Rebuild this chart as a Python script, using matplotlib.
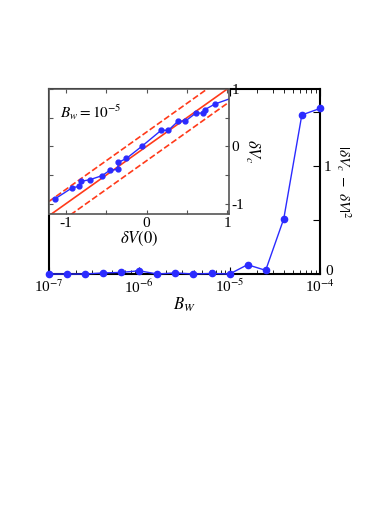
import numpy as np
import matplotlib
matplotlib.use("Agg")
import matplotlib.pyplot as plt
from matplotlib.transforms import ScaledTranslation

plt.rcParams['font.family'] = ['Liberation Serif', 'DejaVu Serif']
plt.rcParams['mathtext.fontset'] = 'stix'

# main panel: error vs B_w
bw = [1e-7, 1.58e-7, 2.51e-7, 3.98e-7, 6.31e-7, 1e-6, 1.58e-6, 2.51e-6,
      3.98e-6, 6.31e-6, 1e-5, 1.58e-5, 2.51e-5, 3.98e-5, 6.31e-5, 1e-4]
err = [0.0, 0.0, 0.0, 0.01, 0.015, 0.03, 0.0, 0.01,
       0.0, 0.005, 0.0, 0.086, 0.034, 0.51, 1.47, 1.53]

# inset: dV_c vs dV(0) at B_w = 1e-5
dv0 = [-1.14, -0.92, -0.84, -0.81, -0.70, -0.55, -0.46, -0.36, -0.35, -0.25,
       -0.06, 0.18, 0.27, 0.39, 0.48, 0.61, 0.70, 0.72, 0.85]
dvc = [-0.92, -0.72, -0.70, -0.61, -0.58, -0.51, -0.42, -0.40, -0.28, -0.21,
       0.0, 0.28, 0.28, 0.44, 0.44, 0.58, 0.58, 0.64, 0.74]
dv0_end = [0.85, 1.05]
dvc_end = [0.74, 0.84]
band = 0.25

blue = '#2b2bff'
red = '#ff3a1a'

fig = plt.figure(figsize=(3.92, 5.08), dpi=100)

ax = fig.add_axes([0.125, 0.4606, 0.691, 0.3642])
ax.plot(bw, err, '-o', color=blue, lw=1.0, ms=4.5, clip_on=False, zorder=5)
ax.set_xscale('log')
ax.set_xlim(1e-7, 1e-4)
ax.set_ylim(0, 1.71)
ax.yaxis.tick_right()
ax.yaxis.set_label_position('right')
ax.set_yticks([0, 0.5, 1, 1.5])
ax.set_yticklabels(['0', '', '1', ''])
ax.tick_params(axis='x', which='both', direction='in', top=True, labelsize=11, pad=3)
ax.tick_params(axis='x', which='major', length=5)
ax.tick_params(axis='x', which='minor', length=3)
ax.tick_params(axis='y', direction='in', length=5, labelsize=11, pad=3)
ax.set_xticks([1e-7, 1e-6, 1e-5, 1e-4])
ax.set_xticklabels([r'10$^{-7}$', r'10$^{-6}$', r'10$^{-5}$', r'10$^{-4}$'])
# nudge the "0" up a little so it clears 10^-4
lab0 = ax.get_yticklabels()[0]
lab0.set_transform(lab0.get_transform() + ScaledTranslation(1/72, 3/72, fig.dpi_scale_trans))
for s in ax.spines.values():
    s.set_linewidth(1.5)
ax.set_xlabel(r'$B_W$', fontsize=12, labelpad=0)
ax.set_ylabel(r'$|\delta V_c\ -\ \delta V|^2$', fontsize=11, rotation=-90, labelpad=14)

# inset
ins = fig.add_axes([0.125, 0.5787, 0.459, 0.2461])
xx = np.array([-1.3, 1.1])
ins.plot(xx, xx, '-', color=red, lw=1.2)
ins.plot(xx, xx + band, '--', color=red, lw=1.2)
ins.plot(xx, xx - band, '--', color=red, lw=1.2)
ins.plot(dv0_end, dvc_end, '-', color=blue, lw=1.0)
ins.plot(dv0, dvc, '-o', color=blue, lw=1.0, ms=3.5)
ins.set_xlim(-1.21, 1.02)
ins.set_ylim(-1.18, 1.0)
ins.set_xticks([-1, -0.5, 0, 0.5, 1])
ins.set_xticklabels(['-1', '', '0', '', '1'])
ins.set_yticks([-1, -0.5, 0, 0.5, 1])
ins.set_yticklabels(['-1', '', '0', '', '1'])
ins.yaxis.set_label_position('right')
ins.tick_params(axis='both', direction='in', length=3, top=True, right=True,
                labelleft=False, labelright=True, labelsize=11, pad=2,
                color='#555555')
for s in ins.spines.values():
    s.set_linewidth(1.2)
    s.set_color('#555555')
ins.set_xlabel(r'$\delta V(0)$', fontsize=12, labelpad=0)
ins.set_ylabel(r'$\delta V_c$', fontsize=12, rotation=-90, labelpad=12)
ins.text(0.06, 0.81, r'$B_w = 10^{-5}$', transform=ins.transAxes,
         fontsize=11, va='center', ha='left')

fig.savefig('out.png', dpi=100)
